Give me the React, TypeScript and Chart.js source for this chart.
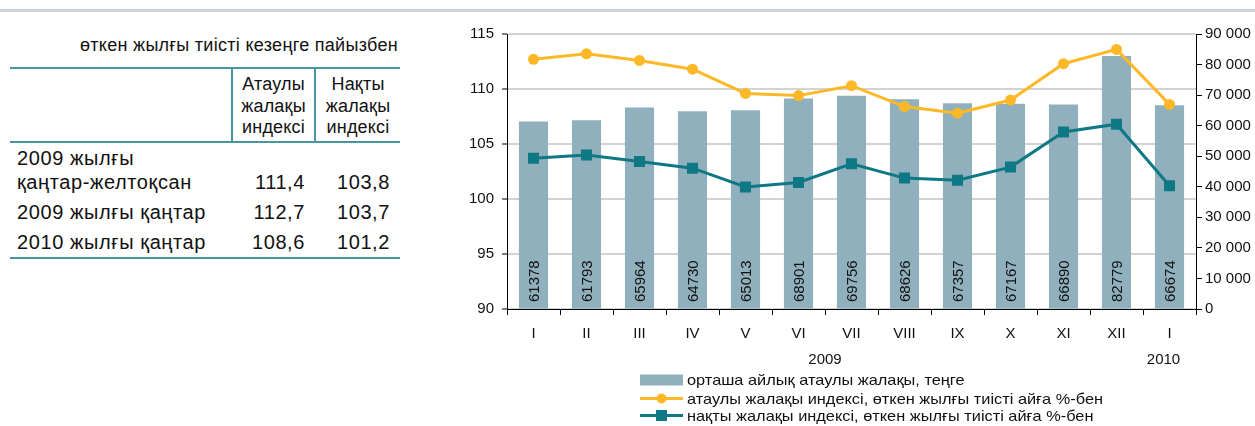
import React, { useEffect, useRef } from "react";
import { Chart, registerables } from "chart.js";

Chart.register(...registerables);

const months = ["I", "II", "III", "IV", "V", "VI", "VII", "VIII", "IX", "X", "XI", "XII", "I"];
const wages = [61378, 61793, 65964, 64730, 65013, 68901, 69756, 68626, 67357, 67167, 66890, 82779, 66674];
const nominalIndex = [112.7, 113.2, 112.6, 111.8, 109.6, 109.4, 110.3, 108.4, 107.8, 109.0, 112.3, 113.6, 108.6];
const realIndex = [103.7, 104.0, 103.4, 102.8, 101.1, 101.5, 103.2, 101.9, 101.7, 102.9, 106.1, 106.8, 101.2];
const years = ["2009", "2010"];
const seriesNames = [
  "орташа айлық атаулы жалақы, теңге",
  "атаулы жалақы индексі, өткен жылғы тиісті айға %-бен",
  "нақты жалақы индексі, өткен жылғы тиісті айға %-бен",
];

const tableTitle = "өткен жылғы тиісті кезеңге пайызбен";
const tableHeaders = [["Атаулы", "жалақы", "индексі"], ["Нақты", "жалақы", "индексі"]];
const tableRowLabels = [["2009 жылғы", "қаңтар-желтоқсан"], ["2009 жылғы қаңтар"], ["2010 жылғы қаңтар"]];
const tableNominal = ["111,4", "112,7", "108,6"];
const tableReal = ["103,8", "103,7", "101,2"];

const FONT = '"Liberation Sans", Arial, sans-serif';
const CHART_FONT_SIZE = 15;
const BAR = "#8fb0bc";
const ORANGE = "#fdb827";
const TEAL = "#0e7884";
const TABLE_LINE = "#4a95a2";

const overlay = {
  id: "overlay",
  afterDatasetsDraw(chart: any) {
    const ctx = chart.ctx;
    const area = chart.chartArea;
    const meta = chart.getDatasetMeta(2);
    ctx.save();
    ctx.fillStyle = "#111";
    ctx.font = `${CHART_FONT_SIZE}px ${FONT}`;
    meta.data.forEach((bar: any, i: number) => {
      ctx.save();
      ctx.translate(bar.x + 1, area.bottom - 7);
      ctx.rotate(-Math.PI / 2);
      ctx.textAlign = "left";
      ctx.textBaseline = "middle";
      ctx.fillText(String(wages[i]), 0, 0);
      ctx.restore();
    });
    ctx.restore();
  },
  afterDraw(chart: any) {
    const ctx = chart.ctx;
    const x = chart.scales.x;
    ctx.save();
    ctx.fillStyle = "#111";
    ctx.font = `${CHART_FONT_SIZE}px ${FONT}`;
    ctx.textAlign = "center";
    ctx.textBaseline = "middle";
    const x2009 = (x.getPixelForValue(0) + x.getPixelForValue(11)) / 2;
    const x2010 = x.getPixelForValue(12) - 6;
    ctx.fillText(years[0], x2009, 360);
    ctx.fillText(years[1], x2010, 360);

    // legend
    const lx = 200;
    const lw = 43;
    const rows = [380, 398.5, 415.5];
    ctx.textAlign = "left";
    ctx.fillStyle = BAR;
    ctx.fillRect(lx, rows[0] - 5.5, lw, 11);
    ctx.strokeStyle = ORANGE;
    ctx.lineWidth = 3;
    ctx.beginPath();
    ctx.moveTo(lx, rows[1]);
    ctx.lineTo(lx + lw, rows[1]);
    ctx.stroke();
    ctx.fillStyle = ORANGE;
    ctx.beginPath();
    ctx.arc(lx + lw / 2, rows[1], 5, 0, Math.PI * 2);
    ctx.fill();
    ctx.strokeStyle = TEAL;
    ctx.beginPath();
    ctx.moveTo(lx, rows[2]);
    ctx.lineTo(lx + lw, rows[2]);
    ctx.stroke();
    ctx.fillStyle = TEAL;
    ctx.fillRect(lx + lw / 2 - 5.5, rows[2] - 5.5, 11, 11);

    ctx.fillStyle = "#111";
    seriesNames.forEach((t, i) => {
      ctx.save();
      ctx.translate(lx + lw + 4, rows[i] + 1);
      ctx.scale(1.09, 1);
      ctx.fillText(t, 0, 0);
      ctx.restore();
    });
    ctx.restore();
  },
};

function ChartBox() {
  const ref = useRef<HTMLCanvasElement | null>(null);
  useEffect(() => {
    if (!ref.current) return;
    const tickFont = { family: FONT, size: CHART_FONT_SIZE };
    const chart = new Chart(ref.current, {
      type: "bar",
      data: {
        labels: months,
        datasets: [
          {
            type: "line",
            label: seriesNames[2],
            data: realIndex,
            yAxisID: "y",
            borderColor: TEAL,
            backgroundColor: TEAL,
            borderWidth: 3,
            pointStyle: "rect",
            pointRadius: 7.8,
            pointBorderWidth: 0,
            tension: 0,
            order: 1,
          } as any,
          {
            type: "line",
            label: seriesNames[1],
            data: nominalIndex,
            yAxisID: "y",
            borderColor: ORANGE,
            backgroundColor: ORANGE,
            borderWidth: 3,
            pointStyle: "circle",
            pointRadius: 5.5,
            pointBorderWidth: 0,
            tension: 0,
            order: 2,
          } as any,
          {
            type: "bar",
            label: seriesNames[0],
            data: wages,
            yAxisID: "y1",
            backgroundColor: BAR,
            barPercentage: 0.55,
            categoryPercentage: 1,
            order: 3,
          } as any,
        ],
      },
      options: {
        responsive: false,
        animation: false,
        devicePixelRatio: 1,
        layout: { padding: { top: 34, left: 0, right: 0, bottom: 0 } },
        plugins: { legend: { display: false }, tooltip: { enabled: false } },
        scales: {
          x: {
            offset: true,
            grid: {
              offset: true,
              drawOnChartArea: false,
              drawTicks: true,
              tickLength: 6,
              tickColor: "#000",
              tickWidth: 1,
            },
            border: { display: true, color: "#000", width: 1 },
            ticks: { color: "#111", font: tickFont, padding: 10, maxRotation: 0, autoSkip: false },
            afterFit(scale: any) {
              scale.height = 117;
            },
          },
          y: {
            position: "left",
            min: 90,
            max: 115,
            ticks: { stepSize: 5, color: "#111", font: tickFont, padding: 8 },
            grid: { color: "#d3d3d3", lineWidth: 2, tickColor: "#000", tickLength: 5, tickWidth: 1 },
            border: { display: true, color: "#000", width: 1 },
            afterFit(scale: any) {
              scale.width = 67;
            },
          },
          y1: {
            position: "right",
            min: 0,
            max: 90000,
            ticks: {
              stepSize: 10000,
              color: "#111",
              font: tickFont,
              padding: 3,
              callback: (v: any) => String(v).replace(/\B(?=(\d{3})+(?!\d))/g, " "),
            },
            grid: { drawOnChartArea: false, tickColor: "#000", tickLength: 6, tickWidth: 1 },
            border: { display: true, color: "#000", width: 1 },
            afterFit(scale: any) {
              scale.width = 59;
            },
          },
        },
      } as any,
      plugins: [overlay],
    });
    return () => chart.destroy();
  }, []);
  return (
    <canvas
      ref={ref}
      width={815}
      height={426}
      style={{ position: "absolute", left: 440, top: 0, width: 815, height: 426 }}
    />
  );
}

export default function App() {
  const cellHead: React.CSSProperties = {
    textAlign: "center",
    verticalAlign: "top",
    padding: "5px 0 2px",
    lineHeight: "21.5px",
    fontSize: 18,
    fontWeight: "normal",
    letterSpacing: "0.2px",
    borderLeft: `2px solid ${TABLE_LINE}`,
  };
  const num: React.CSSProperties = {
    textAlign: "right",
    verticalAlign: "bottom",
    padding: "3px 10px 3px 0",
    lineHeight: "24px",
  };
  return (
    <div
      style={{
        position: "absolute",
        left: 0,
        top: 0,
        width: 1255,
        height: 426,
        background: "#fff",
        fontFamily: FONT,
        color: "#111",
        overflow: "hidden",
      }}
    >
      <div style={{ position: "absolute", left: 0, top: 9, width: 1255, height: 3, background: "#c9d5dc" }} />
      <div
        style={{
          position: "absolute",
          left: 0,
          top: 34,
          width: 398,
          textAlign: "right",
          fontSize: 18,
          letterSpacing: "0.3px",
          lineHeight: "22px",
          whiteSpace: "nowrap",
        }}
      >
        {tableTitle}
      </div>
      <table
        style={{
          position: "absolute",
          left: 10,
          top: 67,
          width: 390,
          borderCollapse: "collapse",
          fontSize: 20,
          letterSpacing: "0.6px",
          borderTop: `2px solid ${TABLE_LINE}`,
          borderBottom: `2px solid ${TABLE_LINE}`,
        }}
      >
        <colgroup>
          <col style={{ width: 222 }} />
          <col style={{ width: 83 }} />
          <col style={{ width: 85 }} />
        </colgroup>
        <thead>
          <tr style={{ borderBottom: `2px solid ${TABLE_LINE}` }}>
            <th style={{ padding: 0 }}></th>
            {tableHeaders.map((h, i) => (
              <th key={i} style={cellHead}>
                {h.map((l, j) => (
                  <div key={j}>{l}</div>
                ))}
              </th>
            ))}
          </tr>
        </thead>
        <tbody>
          {tableRowLabels.map((r, i) => (
            <tr key={i}>
              <td style={{ padding: "3px 0 3px 7px", lineHeight: "24px", verticalAlign: "top", whiteSpace: "nowrap" }}>
                {r.map((l, j) => (
                  <div key={j}>{l}</div>
                ))}
              </td>
              <td style={num}>{tableNominal[i]}</td>
              <td style={num}>{tableReal[i]}</td>
            </tr>
          ))}
        </tbody>
      </table>
      <ChartBox />
    </div>
  );
}
